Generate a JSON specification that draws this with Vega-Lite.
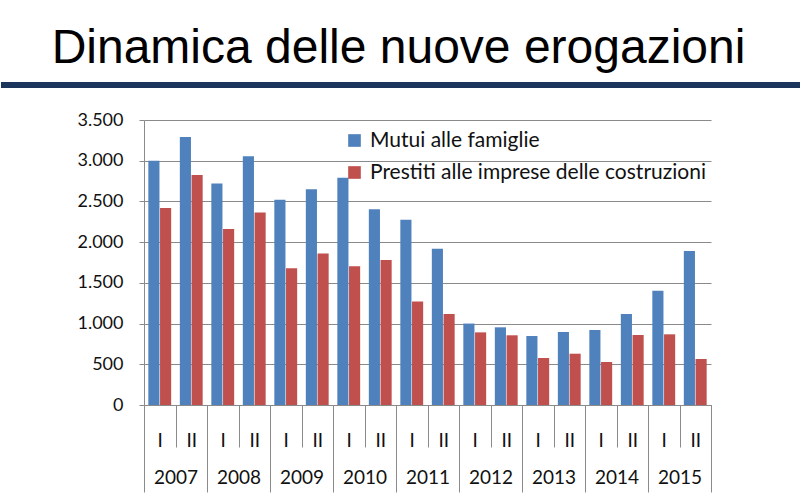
{
  "$schema": "https://vega.github.io/schema/vega-lite/v6.json",
  "background": "white",
  "padding": {"left": 0, "top": 25, "right": 0, "bottom": 0},
  "spacing": 23,
  "config": {"view": {"stroke": null}},
  "resolve": {"legend": {"color": "independent"}},
  "vconcat": [
    {
      "width": 657,
      "height": 6,
      "title": {
        "text": "Dinamica delle nuove erogazioni",
        "font": "Liberation Sans",
        "fontSize": 48,
        "fontWeight": "normal",
        "color": "#000000",
        "anchor": "middle",
        "dx": -74,
        "offset": 9
      },
      "data": {"values": [{"element": "title rule"}]},
      "mark": {"type": "rect", "color": "#1B355C", "clip": false},
      "encoding": {
        "x": {"datum": -0.2177, "type": "quantitative", "scale": {"domain": [0, 1]}, "axis": null},
        "x2": {"datum": 1}
      }
    },
    {
      "width": 567,
      "height": 285,
      "data": {
        "values": [
          {"year": "2007", "period": "2007-I", "series": "Mutui alle famiglie", "value": 3000},
          {"year": "2007", "period": "2007-I", "series": "Prestiti alle imprese delle costruzioni", "value": 2420},
          {"year": "2007", "period": "2007-II", "series": "Mutui alle famiglie", "value": 3290},
          {"year": "2007", "period": "2007-II", "series": "Prestiti alle imprese delle costruzioni", "value": 2825},
          {"year": "2008", "period": "2008-I", "series": "Mutui alle famiglie", "value": 2720},
          {"year": "2008", "period": "2008-I", "series": "Prestiti alle imprese delle costruzioni", "value": 2160},
          {"year": "2008", "period": "2008-II", "series": "Mutui alle famiglie", "value": 3055},
          {"year": "2008", "period": "2008-II", "series": "Prestiti alle imprese delle costruzioni", "value": 2365},
          {"year": "2009", "period": "2009-I", "series": "Mutui alle famiglie", "value": 2520},
          {"year": "2009", "period": "2009-I", "series": "Prestiti alle imprese delle costruzioni", "value": 1680},
          {"year": "2009", "period": "2009-II", "series": "Mutui alle famiglie", "value": 2650},
          {"year": "2009", "period": "2009-II", "series": "Prestiti alle imprese delle costruzioni", "value": 1860},
          {"year": "2010", "period": "2010-I", "series": "Mutui alle famiglie", "value": 2790},
          {"year": "2010", "period": "2010-I", "series": "Prestiti alle imprese delle costruzioni", "value": 1705},
          {"year": "2010", "period": "2010-II", "series": "Mutui alle famiglie", "value": 2405},
          {"year": "2010", "period": "2010-II", "series": "Prestiti alle imprese delle costruzioni", "value": 1780},
          {"year": "2011", "period": "2011-I", "series": "Mutui alle famiglie", "value": 2275},
          {"year": "2011", "period": "2011-I", "series": "Prestiti alle imprese delle costruzioni", "value": 1270},
          {"year": "2011", "period": "2011-II", "series": "Mutui alle famiglie", "value": 1920},
          {"year": "2011", "period": "2011-II", "series": "Prestiti alle imprese delle costruzioni", "value": 1118},
          {"year": "2012", "period": "2012-I", "series": "Mutui alle famiglie", "value": 1000},
          {"year": "2012", "period": "2012-I", "series": "Prestiti alle imprese delle costruzioni", "value": 892},
          {"year": "2012", "period": "2012-II", "series": "Mutui alle famiglie", "value": 954},
          {"year": "2012", "period": "2012-II", "series": "Prestiti alle imprese delle costruzioni", "value": 856},
          {"year": "2013", "period": "2013-I", "series": "Mutui alle famiglie", "value": 847},
          {"year": "2013", "period": "2013-I", "series": "Prestiti alle imprese delle costruzioni", "value": 577},
          {"year": "2013", "period": "2013-II", "series": "Mutui alle famiglie", "value": 897},
          {"year": "2013", "period": "2013-II", "series": "Prestiti alle imprese delle costruzioni", "value": 630},
          {"year": "2014", "period": "2014-I", "series": "Mutui alle famiglie", "value": 921},
          {"year": "2014", "period": "2014-I", "series": "Prestiti alle imprese delle costruzioni", "value": 528},
          {"year": "2014", "period": "2014-II", "series": "Mutui alle famiglie", "value": 1118},
          {"year": "2014", "period": "2014-II", "series": "Prestiti alle imprese delle costruzioni", "value": 860},
          {"year": "2015", "period": "2015-I", "series": "Mutui alle famiglie", "value": 1404},
          {"year": "2015", "period": "2015-I", "series": "Prestiti alle imprese delle costruzioni", "value": 868},
          {"year": "2015", "period": "2015-II", "series": "Mutui alle famiglie", "value": 1891},
          {"year": "2015", "period": "2015-II", "series": "Prestiti alle imprese delle costruzioni", "value": 565}
        ]
      },
      "resolve": {"scale": {"x": "independent"}, "axis": {"x": "independent"}},
      "layer": [
        {
          "mark": {"type": "bar"},
          "encoding": {
            "x": {
              "field": "period",
              "type": "nominal",
              "scale": {"paddingInner": 0, "paddingOuter": 0},
              "axis": {
                "orient": "bottom",
                "title": null,
                "labelExpr": "split(datum.value, '-')[1]",
                "labelAngle": 0,
                "labelFont": "Lato",
                "labelFontSize": 19,
                "labelColor": "#111111",
                "labelPadding": -16,
                "tickBand": "extent",
                "tickSize": 42,
                "tickColor": "#8a8a8a",
                "domainColor": "#8a8a8a",
                "grid": false
              }
            },
            "xOffset": {
              "field": "series",
              "type": "nominal",
              "scale": {"paddingOuter": 0.37, "paddingInner": 0.05}
            },
            "y": {
              "field": "value",
              "type": "quantitative",
              "scale": {"domain": [0, 3500]},
              "axis": {
                "title": null,
                "values": [0, 500, 1000, 1500, 2000, 2500, 3000, 3500],
                "labelExpr": "replace(format(datum.value, ','), ',', '.')",
                "labelFont": "Lato",
                "labelFontSize": 18,
                "labelColor": "#111111",
                "labelPadding": 16,
                "tickSize": 5,
                "tickColor": "#8a8a8a",
                "domainColor": "#8a8a8a",
                "gridColor": "#8a8a8a",
                "minExtent": 143
              }
            },
            "color": {
              "field": "series",
              "type": "nominal",
              "scale": {"range": ["#4F81BD", "#C0504D"]},
              "legend": {
                "title": null,
                "orient": "none",
                "legendX": 200,
                "legendY": 10,
                "padding": 0,
                "symbolType": "square",
                "symbolSize": 160,
                "symbolStrokeWidth": 0,
                "labelFont": "Lato",
                "labelFontSize": 21,
                "labelColor": "#111111",
                "labelLimit": 500,
                "labelOffset": 5,
                "rowPadding": 10
              }
            }
          }
        },
        {
          "mark": {"type": "rule", "opacity": 0},
          "encoding": {
            "x": {
              "field": "year",
              "type": "nominal",
              "scale": {"type": "band", "paddingInner": 0, "paddingOuter": 0},
              "axis": {
                "orient": "bottom",
                "title": null,
                "labelAngle": 0,
                "labelFont": "Lato",
                "labelFontSize": 19,
                "labelColor": "#111111",
                "labelPadding": -24,
                "tickBand": "extent",
                "tickSize": 87,
                "tickColor": "#8a8a8a",
                "domain": false,
                "grid": false
              }
            }
          }
        }
      ]
    }
  ]
}
